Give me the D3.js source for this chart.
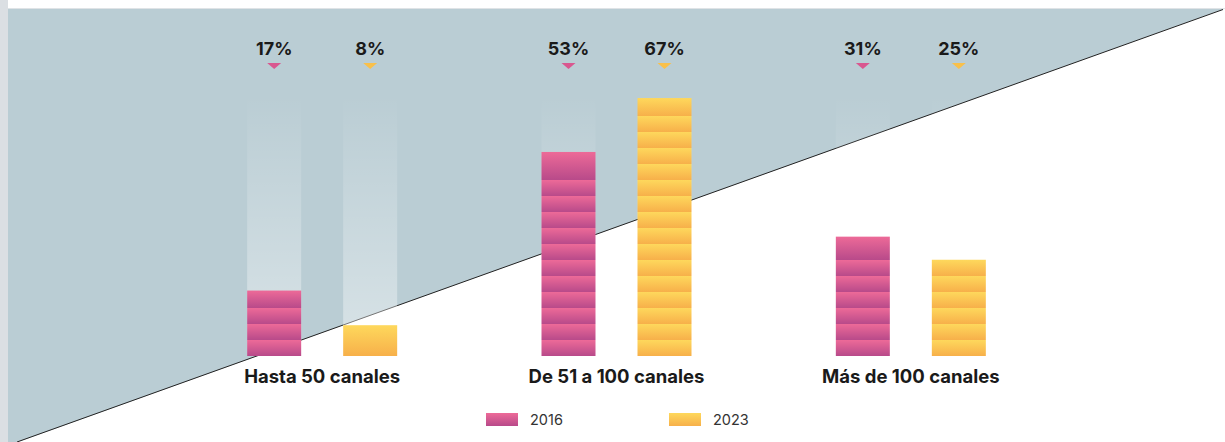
<!DOCTYPE html>
<html><head><meta charset="utf-8">
<script src="https://cdn.jsdelivr.net/npm/d3@7/dist/d3.min.js"></script>
<style>html,body{margin:0;padding:0;background:#fff;overflow:hidden}svg{display:block}</style>
</head><body><div id="chart"></div>
<script>
const categories = ["Hasta 50 canales", "De 51 a 100 canales", "Más de 100 canales"];
const seriesNames = ["2016", "2023"];
const values2016 = [17, 53, 31];
const values2023 = [8, 67, 25];
const valueLabels2016 = ["17%", "53%", "31%"];
const valueLabels2023 = ["8%", "67%", "25%"];

const W = 1225, H = 442;
const svg = d3.select("#chart").append("svg").attr("width", W).attr("height", H);
const defs = svg.append("defs");
const font = "Inter, 'Noto Sans', sans-serif";

const colors = {
  "2016": {top: "#ed6a98", bottom: "#b84a8a", tri: "#d9578f"},
  "2023": {top: "#fed85c", bottom: "#f7b04a", tri: "#f9c04a"}
};

const baseY = 356;
const segSize = 16;
const y = d3.scaleLinear().domain([0, 100]).range([baseY, baseY - 385]);
const x0 = d3.scaleBand().domain(categories).range([175, 1058]).paddingInner(0).paddingOuter(0);
const x1 = d3.scaleBand().domain(seriesNames).range([-75, 75]).paddingInner(0.4375);

// background
svg.append("rect").attr("x", 0).attr("y", 0).attr("width", W).attr("height", H).attr("fill", "#fff");
svg.append("polygon").attr("points", [[8,9],[1224,9],[18,442],[8,442]].map(p=>p.join(",")).join(" ")).attr("fill", "#bacdd4");
svg.append("rect").attr("x", 0).attr("y", 0).attr("width", 8).attr("height", H).attr("fill", "#dbdfe3");
svg.append("line").attr("x1", 8).attr("x2", W).attr("y1", 8.5).attr("y2", 8.5).attr("stroke", "#dfe3e6").attr("stroke-width", 1);
svg.append("line").attr("x1", 17).attr("y1", 442).attr("x2", 1223).attr("y2", 9.5).attr("stroke", "#222").attr("stroke-width", 1);

// gradients
seriesNames.forEach(s => {
  const g = defs.append("linearGradient").attr("id", "g" + s).attr("x1", 0).attr("x2", 0).attr("y1", 0).attr("y2", 1);
  g.append("stop").attr("offset", "0%").attr("stop-color", colors[s].top);
  g.append("stop").attr("offset", "100%").attr("stop-color", colors[s].bottom);
});
const tg = defs.append("linearGradient").attr("id", "track").attr("x1", 0).attr("x2", 0).attr("y1", 0).attr("y2", 1);
tg.append("stop").attr("offset", "0%").attr("stop-color", "#fff").attr("stop-opacity", 0);
tg.append("stop").attr("offset", "100%").attr("stop-color", "#fff").attr("stop-opacity", 0.45);

const data = categories.map((c, i) => ({
  cat: c,
  items: [
    {s: "2016", v: values2016[i], label: valueLabels2016[i]},
    {s: "2023", v: values2023[i], label: valueLabels2023[i]}
  ]
}));

const groups = svg.selectAll("g.grp").data(data).join("g").attr("class", "grp")
  .attr("transform", d => `translate(${x0(d.cat) + x0.bandwidth()/2},0)`);

// tracks
groups.selectAll("rect.track").data(d => d.items).join("rect").attr("class", "track")
  .attr("x", d => x1(d.s)).attr("width", x1.bandwidth())
  .attr("y", 95).attr("height", baseY - 95).attr("fill", "url(#track)");

// bars made of stacked segments (from the baseline up; top segment takes the remainder)
function segments(d) {
  const top = y(d.v), h = baseY - top;
  const n = Math.max(1, Math.floor(h / segSize));
  const out = [];
  for (let k = 0; k < n; k++) {
    const y1 = baseY - k * segSize;
    const y0 = (k === n - 1) ? top : y1 - segSize;
    out.push({s: d.s, y0, y1});
  }
  return out;
}
const bars = groups.selectAll("g.bar").data(d => d.items).join("g").attr("class", "bar")
  .attr("transform", d => `translate(${x1(d.s)},0)`);
bars.selectAll("rect").data(segments).join("rect")
  .attr("x", 0).attr("width", x1.bandwidth())
  .attr("y", d => d.y0).attr("height", d => d.y1 - d.y0)
  .attr("fill", d => "url(#g" + d.s + ")");

// value labels
groups.selectAll("text.val").data(d => d.items).join("text").attr("class", "val")
  .attr("x", d => x1(d.s) + x1.bandwidth()/2).attr("y", 55)
  .attr("text-anchor", "middle").attr("font-family", font).attr("font-weight", 700)
  .attr("font-size", 18).attr("fill", "#1a1a1a").text(d => d.label);

// triangles
groups.selectAll("path.tri").data(d => d.items).join("path").attr("class", "tri")
  .attr("d", d => { const cx = x1(d.s) + x1.bandwidth()/2; return `M${cx-7},63L${cx+7},63L${cx},69Z`; })
  .attr("fill", d => colors[d.s].tri);

// category labels
groups.append("text").attr("x", 0).attr("y", 383).attr("text-anchor", "middle")
  .attr("font-family", font).attr("font-weight", 700).attr("font-size", 18.5).attr("fill", "#1a1a1a")
  .text(d => d.cat);

// legend
const legendX = [486, 669];
const leg = svg.selectAll("g.leg").data(seriesNames).join("g").attr("class", "leg")
  .attr("transform", (d, i) => `translate(${legendX[i]},413)`);
leg.append("rect").attr("width", 32).attr("height", 13).attr("fill", d => "url(#g" + d + ")");
leg.append("text").attr("x", 44).attr("y", 11.5).attr("font-family", font).attr("font-size", 14.5)
  .attr("fill", "#333").text(d => d);
</script></body></html>
